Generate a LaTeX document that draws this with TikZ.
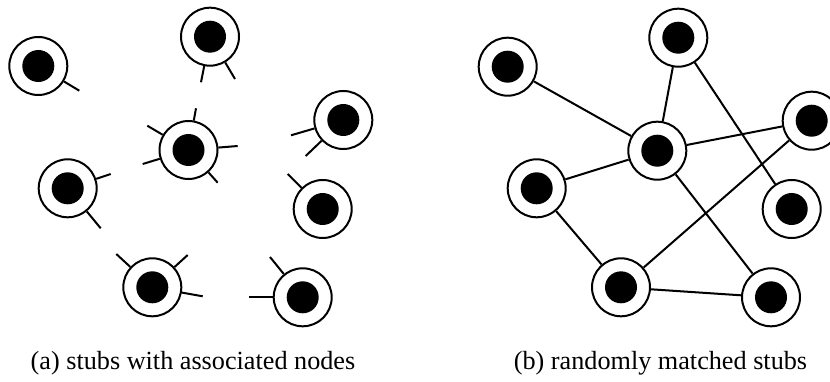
\documentclass[tikz,border=0pt]{standalone}
\usepackage{fontspec}
\setmainfont{Liberation Serif}
\begin{document}
\begin{tikzpicture}[x=1pt,y=-1pt,
  vtx/.style={circle,draw=black,line width=2pt,fill=white,minimum size=58pt,inner sep=0pt,
    path picture={\fill[black] (path picture bounding box.center) circle (16pt);}},
  stub/.style={line width=2pt,draw=black},
  edge/.style={line width=2pt,draw=black},
  captext/.style={font=\fontsize{26.2}{30}\selectfont,anchor=base,inner sep=0pt}]
\useasboundingbox (0,0) rectangle (830,382);
% ---------- (a) stubs ----------
\node[vtx] (a1) at (38.3,66) {};
\node[vtx] (b1) at (210,36.7) {};
\node[vtx] (c1) at (188.5,150) {};
\node[vtx] (d1) at (343.3,120) {};
\node[vtx] (e1) at (67.7,188.3) {};
\node[vtx] (f1) at (322.7,209) {};
\node[vtx] (g1) at (152.3,287.3) {};
\node[vtx] (h1) at (302.7,297.3) {};
\coordinate (sa1) at (79.3,90.7);
\coordinate (sb1) at (201,82.3);
\coordinate (sb2) at (235,79);
\coordinate (sc1) at (196,108.3);
\coordinate (sc2) at (147.3,125.7);
\coordinate (sc3) at (142.7,164);
\coordinate (sc4) at (237.7,146);
\coordinate (sc5) at (217.7,182.7);
\coordinate (sd1) at (291,135.3);
\coordinate (sd2) at (305.7,156);
\coordinate (se1) at (110.7,174);
\coordinate (se2) at (100.7,228.3);
\coordinate (sf1) at (287.7,174);
\coordinate (sg1) at (116.3,254);
\coordinate (sg2) at (187.7,255);
\coordinate (sg3) at (202.7,296.3);
\coordinate (sh1) at (249.3,297.3);
\coordinate (sh2) at (270,257);
\draw[stub] (a1) -- (sa1);
\draw[stub] (b1) -- (sb1);
\draw[stub] (b1) -- (sb2);
\draw[stub] (c1) -- (sc1);
\draw[stub] (c1) -- (sc2);
\draw[stub] (c1) -- (sc3);
\draw[stub] (c1) -- (sc4);
\draw[stub] (c1) -- (sc5);
\draw[stub] (d1) -- (sd1);
\draw[stub] (d1) -- (sd2);
\draw[stub] (e1) -- (se1);
\draw[stub] (e1) -- (se2);
\draw[stub] (f1) -- (sf1);
\draw[stub] (g1) -- (sg1);
\draw[stub] (g1) -- (sg2);
\draw[stub] (g1) -- (sg3);
\draw[stub] (h1) -- (sh1);
\draw[stub] (h1) -- (sh2);
% ---------- (b) matched ----------
\node[vtx] (a2) at (507.7,66.7) {};
\node[vtx] (b2) at (678.3,37.7) {};
\node[vtx] (c2) at (657.3,150.7) {};
\node[vtx] (d2) at (811.7,120.7) {};
\node[vtx] (e2) at (536.7,188.3) {};
\node[vtx] (f2) at (791.7,209) {};
\node[vtx] (g2) at (621,287.3) {};
\node[vtx] (h2) at (771,297.3) {};
\draw[edge] (a2) -- (c2);
\draw[edge] (b2) -- (c2);
\draw[edge] (b2) -- (f2);
\draw[edge] (c2) -- (d2);
\draw[edge] (c2) -- (e2);
\draw[edge] (c2) -- (h2);
\draw[edge] (d2) -- (g2);
\draw[edge] (e2) -- (g2);
\draw[edge] (g2) -- (h2);
% ---------- captions ----------
\node[captext] (capa) at (193,369) {(a) stubs with associated nodes};
\node[captext] (capb) at (660.5,369) {(b) randomly matched stubs};
\end{tikzpicture}
\end{document}
